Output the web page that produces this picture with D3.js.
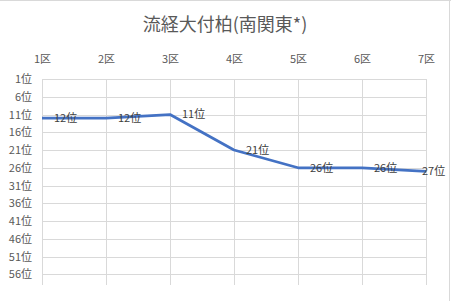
<!DOCTYPE html>
<html>
<head>
<meta charset="utf-8">
<script src="https://cdn.jsdelivr.net/npm/d3@7"></script>
<style>
  body { margin: 0; background: #fff; }
  text { font-family: "Noto Sans CJK JP", "Noto Sans", sans-serif; }
</style>
</head>
<body>
<div id="chart"></div>
<script>
const categories = ["1区", "2区", "3区", "4区", "5区", "6区", "7区"];
const ranks = [12, 12, 11, 21, 26, 26, 27];
const rankTicks = [1, 6, 11, 16, 21, 26, 31, 36, 41, 46, 51, 56];

const W = 451, H = 301;
const margin = { top: 79, right: 25, bottom: 16, left: 42 };

const svg = d3.select("#chart")
  .append("svg")
  .attr("width", W)
  .attr("height", H);

// outer frame (only top / right visible in the crop)
svg.append("line").attr("x1", 0).attr("x2", W).attr("y1", 0.5).attr("y2", 0.5)
  .attr("stroke", "#d9d9d9");
svg.append("line").attr("x1", 449.5).attr("x2", 449.5).attr("y1", 0).attr("y2", H)
  .attr("stroke", "#d9d9d9");

svg.append("text")
  .attr("x", 225)
  .attr("y", 31)
  .attr("text-anchor", "middle")
  .style("font-size", "18px")
  .style("fill", "#595959")
  .text("流経大付柏(南関東*)");

const x = d3.scalePoint()
  .domain(categories)
  .range([margin.left, W - margin.right]);

const y = d3.scaleLinear()
  .domain([1, 59])
  .range([margin.top, H - margin.bottom]);

const g = svg.append("g");

// horizontal gridlines
g.selectAll(".hgrid")
  .data(rankTicks)
  .join("line")
  .attr("x1", margin.left)
  .attr("x2", W - margin.right)
  .attr("y1", d => Math.round(y(d)) + 0.5)
  .attr("y2", d => Math.round(y(d)) + 0.5)
  .attr("stroke", "#d9d9d9");

// vertical gridlines
g.selectAll(".vgrid")
  .data(categories)
  .join("line")
  .attr("x1", d => Math.round(x(d)) + 0.5)
  .attr("x2", d => Math.round(x(d)) + 0.5)
  .attr("y1", margin.top)
  .attr("y2", H - margin.bottom)
  .attr("stroke", "#d9d9d9");

// top axis
const xAxis = svg.append("g")
  .attr("transform", "translate(0," + (margin.top - 20) + ")")
  .call(d3.axisTop(x).tickSize(0).tickPadding(0));
xAxis.select(".domain").remove();
xAxis.selectAll("text")
  .attr("dy", "0.35em")
  .style("font-size", "11px")
  .style("fill", "#595959");

// left axis
const yAxis = svg.append("g")
  .attr("transform", "translate(" + (margin.left - 10) + ",0)")
  .call(d3.axisLeft(y).tickValues(rankTicks).tickSize(0).tickPadding(0)
    .tickFormat(d => d + "位"));
yAxis.select(".domain").remove();
yAxis.selectAll("text")
  .style("font-size", "11px")
  .style("fill", "#595959");

// series
const line = d3.line()
  .x((d, i) => x(categories[i]))
  .y(d => y(d));

svg.append("path")
  .datum(ranks)
  .attr("d", line)
  .attr("fill", "none")
  .attr("stroke", "#4472c4")
  .attr("stroke-width", 2.75)
  .attr("stroke-linejoin", "round");

// data labels (right of point, kept inside the chart)
svg.selectAll(".lbl")
  .data(ranks)
  .join("text")
  .attr("x", (d, i) => Math.min(x(categories[i]) + 12, W - 29))
  .attr("y", d => y(d))
  .attr("dy", "0.35em")
  .style("font-size", "11px")
  .style("fill", "#404040")
  .text(d => d + "位");
</script>
</body>
</html>
